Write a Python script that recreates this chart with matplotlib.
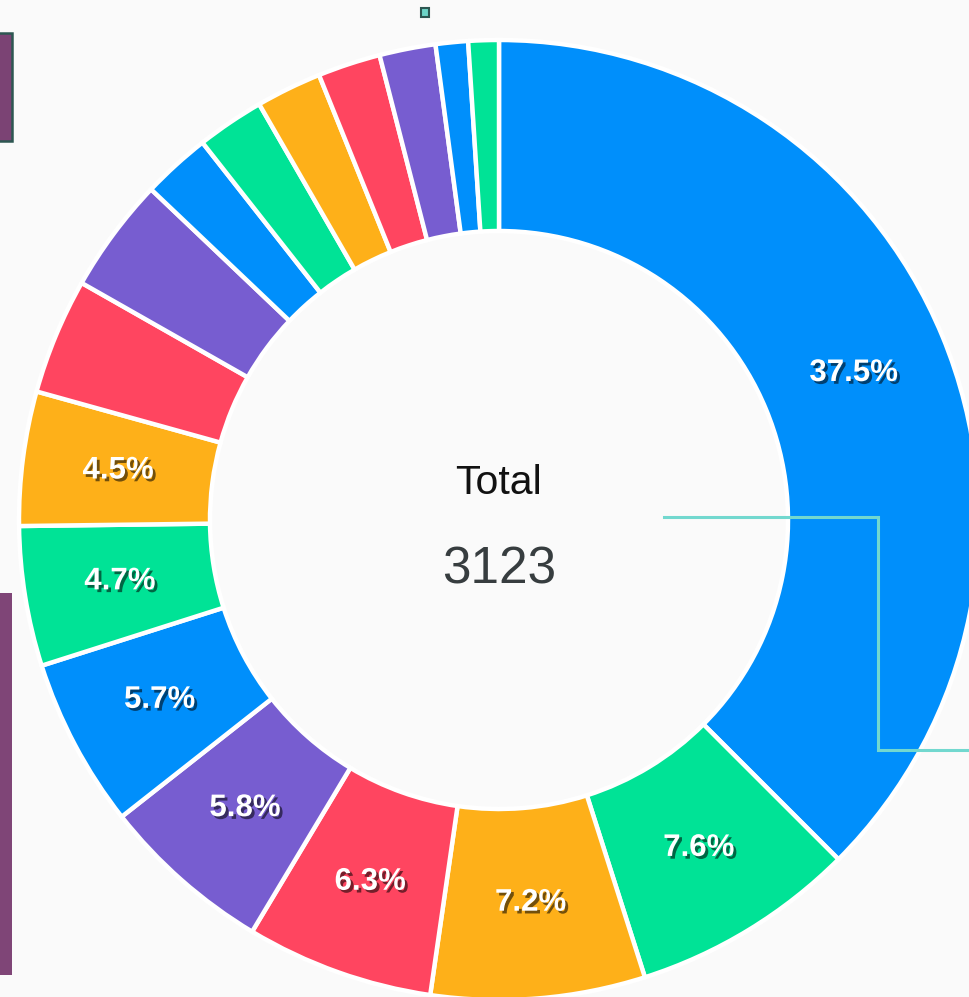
import matplotlib.pyplot as plt
import matplotlib.patheffects as pe
from matplotlib.patches import Rectangle

# slice values, clockwise from 12 o'clock
counts = [1171, 237, 225, 197, 181, 178, 147, 141, 122, 121, 72, 71, 69, 66, 59, 34, 32]
palette = ['#008FFB', '#00E396', '#FEB019', '#FF4560', '#775DD0']
colors = [palette[i % len(palette)] for i in range(len(counts))]
center_title = 'Total'
center_value = str(sum(counts))

W, H = 969, 997
bg = '#fafafa'

fig = plt.figure(figsize=(W / 100, H / 100), dpi=100, facecolor=bg)
ax = fig.add_axes([0, 0, 1, 1])
ax.set_facecolor(bg)


def pct_label(p):
    return f'{p:.1f}%' if p >= 4 else ''


wedges, texts, autotexts = ax.pie(
    counts, colors=colors, startangle=90, counterclock=False,
    center=(499, H - 520), radius=480,
    wedgeprops=dict(width=191, edgecolor='white', linewidth=3.2),
    autopct=pct_label, pctdistance=0.8,
    textprops=dict(color='white', fontsize=22.5, fontweight='bold',
                   family='Liberation Sans'))

for t in autotexts:
    t.set_path_effects([pe.SimplePatchShadow(offset=(2, -2), shadow_rgbFace='black', alpha=0.55),
                        pe.Normal()])

ax.text(499, H - 483, center_title, ha='center', va='center', fontsize=29.5,
        color='#111111', family='Liberation Sans')
ax.text(499, H - 570, center_value, ha='center', va='center', fontsize=37,
        color='#373d3f', family='Liberation Sans')

# overlay bits from the screenshot
ax.plot([664, 878, 878, W], [H - 517, H - 517, H - 750, H - 750],
        color='#72d8cf', lw=2.2, solid_joinstyle='miter')
ax.add_patch(Rectangle((421, H - 17), 8, 9, facecolor='#6dd5c8', edgecolor='#2d5752', lw=1.5))
ax.add_patch(Rectangle((-3, H - 141), 15, 108, facecolor='#7b4374', edgecolor='#2d5752', lw=1.8))
ax.add_patch(Rectangle((0, H - 975), 12.5, 382, facecolor='#7f4577', edgecolor='none'))

ax.set_xlim(0, W)
ax.set_ylim(0, H)
ax.set_aspect('equal')
ax.axis('off')

fig.savefig('out.png', dpi=100, facecolor=bg)
